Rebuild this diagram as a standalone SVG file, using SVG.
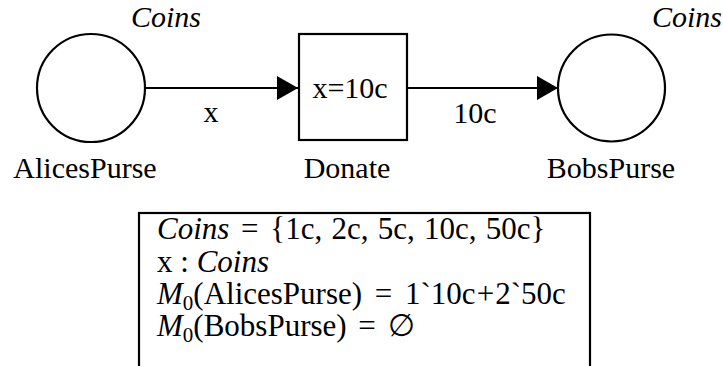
<svg xmlns="http://www.w3.org/2000/svg" width="723" height="366" viewBox="0 0 723 366" font-family="'Liberation Serif', Tinos, 'Times New Roman', Times, 'DejaVu Serif', serif">
<style>
text { font-family: 'Liberation Serif', Tinos, 'Times New Roman', Times, 'DejaVu Serif', serif; font-size: 30px; fill: #000; }
.it { font-style: italic; }
.c { text-anchor: middle; }
.decl { font-size: 31px; }
.sub { font-size: 21px; }
.shape { fill: #fff; stroke: #000; stroke-width: 2.2; }
.arc { stroke: #000; stroke-width: 2.2; fill: none; }
</style>
<defs>
<marker id="ah" markerUnits="userSpaceOnUse" markerWidth="22" markerHeight="24" refX="21" refY="12" orient="auto">
<path d="M0,0 L21,12 L0,24 Z" fill="#000"/>
</marker>
</defs>
<g id="connectors">
<line class="arc" x1="145" y1="88" x2="298" y2="88" marker-end="url(#ah)"/>
<line class="arc" x1="407" y1="88" x2="558" y2="88" marker-end="url(#ah)"/>
<text class="c" x="211" y="122">x</text>
<text class="c" x="475" y="123">10c</text>
</g>
<g id="AlicesPurse">
<circle class="shape" cx="91" cy="88" r="54"/>
<text class="it c" x="166" y="27">Coins</text>
<text class="c" x="85" y="178">AlicesPurse</text>
</g>
<g id="Donate">
<rect class="shape" x="299" y="34" width="108" height="106"/>
<text class="c" x="350" y="98">x=10c</text>
<text class="c" x="347" y="178">Donate</text>
</g>
<g id="BobsPurse">
<circle class="shape" cx="611.5" cy="88" r="53.5"/>
<text class="it" x="652" y="27">Coins</text>
<text class="c" x="611" y="178">BobsPurse</text>
</g>
<g id="declarations">
<rect x="139" y="213" width="451" height="170" fill="#fff" stroke="#000" stroke-width="2.2"/>
<text class="decl" x="157" y="239"><tspan class="it">Coins</tspan><tspan dx="4"> = </tspan><tspan dx="4" word-spacing="1.5">{1c, 2c, 5c, 10c, 50c}</tspan></text>
<text class="decl" x="157" y="272">x : <tspan class="it">Coins</tspan></text>
<text class="decl" x="157" y="304"><tspan class="it">M</tspan><tspan class="sub" dy="6">0</tspan><tspan dy="-6">(AlicesPurse)</tspan><tspan dx="5"> = </tspan><tspan dx="5">1`10c</tspan><tspan dx="1">+</tspan><tspan dx="1">2`50c</tspan></text>
<text class="decl" x="157" y="336"><tspan class="it">M</tspan><tspan class="sub" dy="6">0</tspan><tspan dy="-6">(BobsPurse)</tspan><tspan dx="4"> = </tspan><tspan dx="4">∅</tspan></text>
</g>
</svg>
